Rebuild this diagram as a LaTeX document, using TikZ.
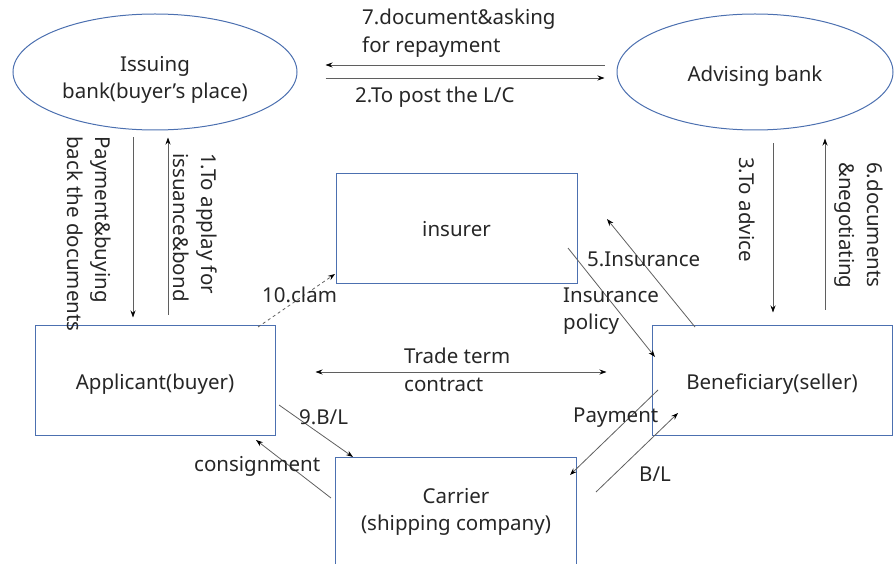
\documentclass[tikz,border=0pt]{standalone}
\usepackage{fontspec}
\setmainfont{Noto Sans}
\usetikzlibrary{shapes.geometric,arrows.meta}
\definecolor{bordblue}{RGB}{76,112,176}
\definecolor{txt}{RGB}{38,38,38}
\definecolor{lin}{RGB}{95,95,95}
\newcommand\lblfont{\fontsize{20.5}{27.5}\selectfont}
\tikzset{
  ell/.style={ellipse, draw=bordblue, line width=1pt, minimum height=116pt, inner sep=0pt, align=center, text=txt, font=\lblfont},
  box/.style={rectangle, draw=bordblue, line width=1pt, inner sep=0pt, minimum width=241pt, minimum height=110pt, align=center, text=txt, font=\lblfont},
  conn/.style={draw=lin, line width=0.8pt, -{Stealth[length=7pt,width=5pt,black]}},
  lab/.style={text=txt, inner sep=0pt, align=left, anchor=west, font=\lblfont},
  vlab/.style={lab, rotate=-90},
}
\begin{document}
\begin{tikzpicture}[x=1pt,y=-1pt]
\useasboundingbox (0,0) rectangle (894,564);
% nodes
\node[ell, minimum width=284pt] (issue) at (155,72) {\rule{0pt}{31pt}Issuing\\[-1pt]bank(buyer’s place)};
\node[ell, minimum width=276pt, text height=24pt, text depth=5pt] (advise) at (755,72) {Advising bank};
\node[box, minimum width=240pt, text height=24pt, text depth=6pt] (app) at (155,380) {Applicant(buyer)};
\node[box, minimum width=240pt, text height=24pt, text depth=6pt] (benef) at (772,380) {Beneficiary(seller)};
\node[box, minimum height=109pt, text height=21pt, text depth=5pt] (ins) at (456.5,228.5) {insurer};
\node[box] (car) at (456,512) {Carrier\\[-1pt](shipping company)};

% top horizontal arrows
\draw[conn, shorten <=12pt, shorten >=28pt] ([yshift=7pt]advise.west) -- ([yshift=7pt]issue.east);
\draw[conn, shorten <=28pt, shorten >=12pt] ([yshift=-6pt]issue.east) -- ([yshift=-6pt]advise.west);
\node[lab] (l7) at (362,33) {7.document\&asking\\for repayment};
\node[lab] (l2) at (355,97) {2.To post the L/C};

% left vertical arrows
\draw[conn, shorten <=7pt, shorten >=7pt] ([xshift=-22pt]issue.south) -- ([xshift=-22pt]app.north);
\draw[conn, shorten <=10pt, shorten >=7pt] ([xshift=13pt]app.north) -- ([xshift=13pt]issue.south);
\node[vlab] (lpay) at (89,136) {Payment\&buying\\back the documents};
\node[vlab] (l1) at (195,153) {1.To applay for\\issuance\&bond};

% right vertical arrows
\draw[conn, shorten <=13pt, shorten >=12pt] ([xshift=18pt]advise.south) -- ([xshift=18pt]advise.south |- benef.north);
\draw[conn, shorten <=15pt, shorten >=8pt] ([xshift=70pt]advise.south |- benef.north) -- ([xshift=70pt]advise.south);
\node[vlab] (l3) at (747,157) {3.To advice};
\node[vlab] (l6) at (859,162) {6.documents\\\&negotiating};

% trade term
\draw[draw=lin, line width=0.8pt, {Stealth[length=7pt,width=5pt,black]}-{Stealth[length=7pt,width=5pt,black]}, shorten <=40pt, shorten >=45pt] ([yshift=8pt]app.east) -- ([yshift=8pt]benef.west);
\node[lab] (ltrade) at (404,370) {Trade term\\contract};

% diagonal connectors
\coordinate (c10a) at (258,327); \coordinate (c10b) at (335,274);
\draw[conn, dashed] (c10a) -- (c10b);
\node[lab] (l10) at (262,295) {10.clam};

\coordinate (cpa) at (568,248); \coordinate (cpb) at (655,357);
\draw[conn] (cpa) -- (cpb);
\node[lab] (lpol) at (563,311) {Insurance\\policy};

\coordinate (c5a) at (695,327); \coordinate (c5b) at (607,219);
\draw[conn] (c5a) -- (c5b);
\node[lab] (l5) at (587,259) {5.Insurance};

\coordinate (c9a) at (279,405); \coordinate (c9b) at (353,457);
\draw[conn] (c9a) -- (c9b);
\node[lab] (l9) at (299,417) {9.B/L};

\coordinate (cca) at (331,498); \coordinate (ccb) at (256,440);
\draw[conn] (cca) -- (ccb);
\node[lab] (lcons) at (194,466) {consignment};

\coordinate (cpya) at (658,390); \coordinate (cpyb) at (570,475);
\draw[conn] (cpya) -- (cpyb);
\node[lab] (lpym) at (573,418) {Payment};

\coordinate (cbla) at (596,492); \coordinate (cblb) at (678,413);
\draw[conn] (cbla) -- (cblb);
\node[lab] (lbl) at (639,474) {B/L};
\end{tikzpicture}
\end{document}
